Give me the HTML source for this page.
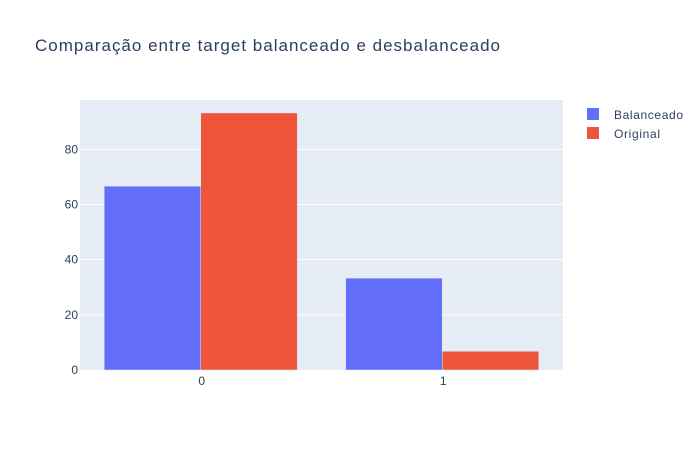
<!DOCTYPE html>
<html><head><meta charset="utf-8"><style>
body{margin:0;background:#fff;font-family:"Liberation Sans",Arial,sans-serif}
svg text{font-family:"Liberation Sans",Arial,sans-serif}
</style></head><body>
<svg id="chart" width="700" height="450" xmlns="http://www.w3.org/2000/svg">
<rect width="700" height="450" fill="#fff"/>
<rect x="80" y="100" width="483" height="270" fill="#e5ecf6"/>
<g id="grid"></g><g id="bars"></g><g id="xt"></g><g id="yt"></g>
<text x="35" y="51" font-size="17" fill="#2a3f5f" textLength="465" lengthAdjust="spacing">Comparação entre target balanceado e desbalanceado</text>
<g>
<rect x="587" y="108" width="12" height="12" fill="#636efa"/>
<text x="614" y="119" font-size="12" fill="#2a3f5f" textLength="69" lengthAdjust="spacing">Balanceado</text>
<rect x="587" y="127" width="12" height="12" fill="#ef553b"/>
<text x="614" y="138" font-size="12" fill="#2a3f5f" textLength="46" lengthAdjust="spacing">Original</text>
</g>
</svg>
<script>
const categories=["0","1"];
const balanceado=[66.67,33.33];
const original=[93.2,6.8];
const yTicks=[0,20,40,60,80];
const yMax=97.9;
const X0=80,W=483,Y0=370,H=270;
const ns="http://www.w3.org/2000/svg";
function y(v){return Y0-v/yMax*H;}
const band=W/categories.length;
function mk(t,a,p){const e=document.createElementNS(ns,t);for(const k in a)e.setAttribute(k,a[k]);document.getElementById(p).appendChild(e);return e;}
yTicks.forEach(v=>{
 if(v>0){const l=mk('line',{x1:X0,x2:X0+W,y1:y(v),y2:y(v),stroke:'#fff','stroke-width':1},'grid');
 
 }
 const t=mk('text',{x:X0-2,y:y(v)+4,'text-anchor':'end','font-size':12,fill:'#2a3f5f'},'yt');t.textContent=v;
 
 
});
const series=[[balanceado,'#636efa','balanceado'],[original,'#ef553b','original']];
categories.forEach((c,i)=>{
 const cx=X0+band*(i+0.5),gw=band*0.8,bw=gw/2;
 series.forEach((s,j)=>{
  const v=s[0][i];
  const r=mk('rect',{x:cx-gw/2+j*bw,y:y(v),width:bw,height:Y0-y(v),fill:s[1],stroke:'#e5ecf6','stroke-width':0.5},'bars');
  
  
 });
 const t=mk('text',{x:cx+1,y:Y0+15,'text-anchor':'middle','font-size':12,fill:'#2a3f5f'},'xt');t.textContent=c;
 
 
});
</script>
</body></html>
